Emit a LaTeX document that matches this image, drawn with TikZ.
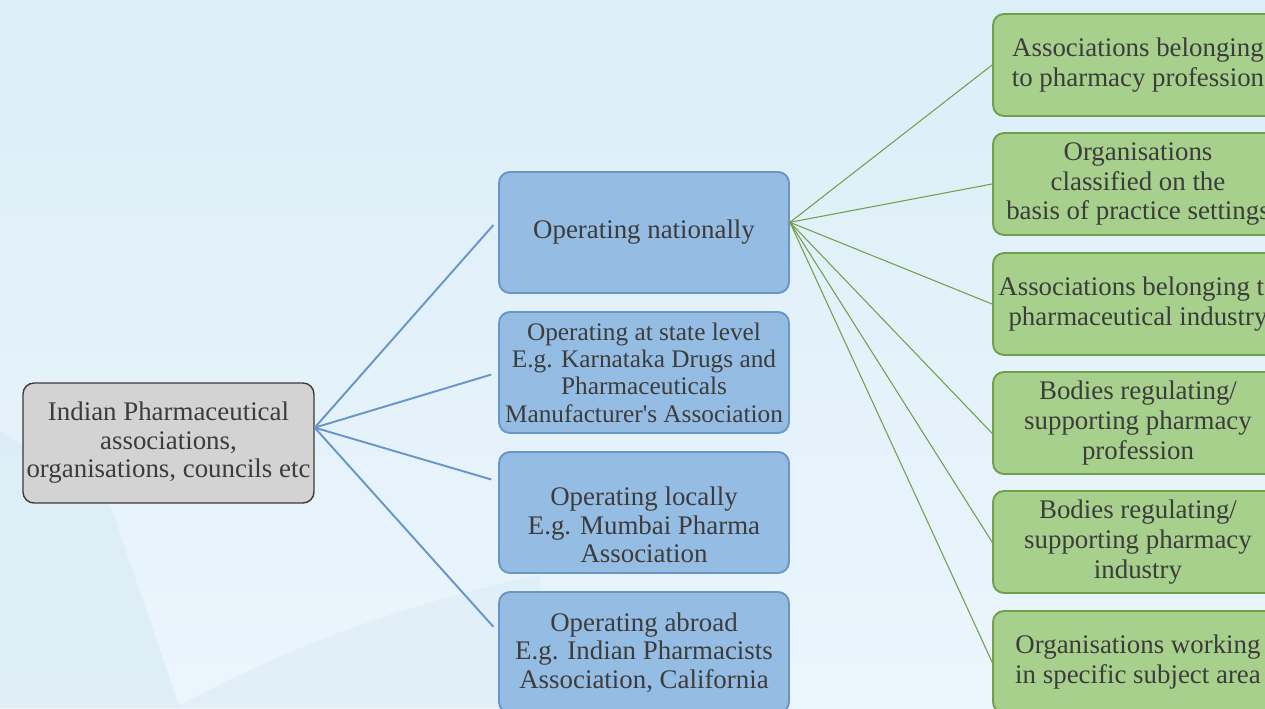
\documentclass[tikz,border=0pt]{standalone}
\usepackage{fontspec}
\setmainfont{Liberation Serif}
\usepackage{tikz}
\usetikzlibrary{arrows}
\definecolor{bgtop}{HTML}{DCEEF8}
\definecolor{bgbot}{HTML}{EBF5FC}
\definecolor{bgshade}{HTML}{DAECF6}
\definecolor{rootfill}{HTML}{D3D3D3}
\definecolor{rootline}{HTML}{3A3A3A}
\definecolor{bluefill}{HTML}{95BDE3}
\definecolor{blueline}{HTML}{6A96C6}
\definecolor{greenfill}{HTML}{A8D08D}
\definecolor{greenline}{HTML}{6EA14A}
\definecolor{txt}{HTML}{3C3C3C}

\begin{document}
\begin{tikzpicture}[x=0.02cm, y=-0.02cm]
    \tikzset{box/.style = {shape=rectangle, rounded corners=0.22cm, align=center, inner sep=2pt,
        text=txt, font=\fontsize{15.3}{16.2}\selectfont, minimum width=5.8cm}}
    \tikzset{rootbox/.style = {box, draw=rootline, fill=rootfill, line width=0.8pt, minimum width=5.78cm, minimum height=2.4cm}}
    \tikzset{bluebox/.style = {box, draw=blueline, fill=bluefill, line width=1.1pt, minimum height=2.42cm}}
    \tikzset{greenbox/.style = {box, draw=greenline, fill=greenfill, line width=1.1pt, minimum height=2.04cm,
        font=\fontsize{15.3}{16.9}\selectfont}}
    \tikzset{boxtext/.style = {align=center, inner sep=0pt, text=txt, font=\fontsize{15.3}{16.2}\selectfont}}
    \tikzset{blueedge/.style = {draw=blueline, line width=1.1pt, shorten >=4pt}}
    \tikzset{greenedge/.style = {draw=greenline, line width=0.6pt}}

    \useasboundingbox (0,0) rectangle (1265,708);
    \clip (0,0) rectangle (1265,708);

    % background
    \shade[top color=bgtop, bottom color=bgbot] (0,0) rectangle (1265,708);
    \fill[bgshade, opacity=0.7] (0,430) -- (110,505) -- (180,708) -- (0,708) -- cycle;
    \fill[bgshade, opacity=0.6] (175,708) .. controls (300,640) and (420,600) .. (540,575) -- (540,708) -- cycle;

    % vertices
    \node[rootbox] (root) at (168.5,443) {Indian Pharmaceutical\\associations,\\organisations, councils etc};

    \node[bluebox] (nat) at (644,232.5) {Operating nationally};
    \node[bluebox, font=\fontsize{14.4}{15.6}\selectfont] (state) at (644,372.5) {Operating at state level\\E.g. Karnataka Drugs and\\Pharmaceuticals\\Manufacturer\textquotesingle s Association};
    \node[bluebox] (local) at (644,512.5) {};
    \node[boxtext] (localtext) at (644,525) {Operating locally\\E.g. Mumbai Pharma\\Association};
    \node[bluebox] (abroad) at (644,652.5) {Operating abroad\\E.g. Indian Pharmacists\\Association, California};

    \node[greenbox] (prof) at (1138,65) {Associations belonging\\to pharmacy profession};
    \node[greenbox] (sett) at (1138,184) {Organisations\\classified on the\\basis of practice settings};
    \node[greenbox] (ind) at (1138,304) {Associations belonging to\\pharmaceutical industry};
    \node[greenbox] (regprof) at (1138,423) {Bodies regulating/\\supporting pharmacy\\profession};
    \node[greenbox] (regind) at (1138,542) {Bodies regulating/\\supporting pharmacy\\industry};
    \node[greenbox] (subj) at (1138,662) {Organisations working\\in specific subject area};

    % edges
    \draw [blueedge] (root.6) -- (nat.175);
    \draw [blueedge] (root.6) -- (state.180);
    \draw [blueedge] (root.6) -- (local.168);
    \draw [blueedge] (root.6) -- (abroad.172);

    \draw [greenedge] (nat.4) -- (prof.west);
    \draw [greenedge] (nat.4) -- (sett.west);
    \draw [greenedge] (nat.4) -- (ind.west);
    \draw [greenedge] (nat.4) -- (regprof.184);
    \draw [greenedge] (nat.4) -- (regind.west);
    \draw [greenedge] (nat.4) -- (subj.west);
\end{tikzpicture}
\end{document}
